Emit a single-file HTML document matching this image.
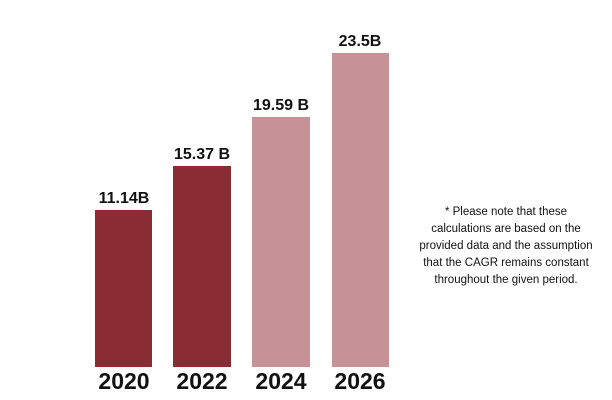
<!DOCTYPE html>
<html><head><style>
body{margin:0;width:612px;height:400px;background:#fff;position:relative;overflow:hidden;font-family:"Liberation Sans",sans-serif}
.b{position:absolute;bottom:33px}
.d{background:#8B2B33}.l{background:#C69298}
.v{position:absolute;font-weight:bold;font-size:16px;color:#111;text-align:center;width:80px}
.y{position:absolute;top:368px;font-weight:bold;font-size:23px;color:#111;text-align:center;width:80px}
.n{position:absolute;left:400px;top:204px;width:212px;text-align:center;font-size:11.5px;line-height:17px;color:#111;white-space:nowrap}
</style></head><body>
<div class="b d" style="left:95px;width:57px;top:210px"></div>
<div class="b d" style="left:173px;width:58px;top:166px"></div>
<div class="b l" style="left:252px;width:58px;top:117px"></div>
<div class="b l" style="left:332px;width:57px;top:53px"></div>
<div class="v" style="left:84px;top:190px">11.14B</div>
<div class="v" style="left:162px;top:146px">15.37 B</div>
<div class="v" style="left:241px;top:97px">19.59 B</div>
<div class="v" style="left:320px;top:33px">23.5B</div>
<div class="y" style="left:84px">2020</div>
<div class="y" style="left:162px">2022</div>
<div class="y" style="left:241px">2024</div>
<div class="y" style="left:320px">2026</div>
<div class="n">* Please note that these<br>calculations are based on the<br>provided data and the assumption<br>that the CAGR remains constant<br>throughout the given period.</div>
</body></html>
